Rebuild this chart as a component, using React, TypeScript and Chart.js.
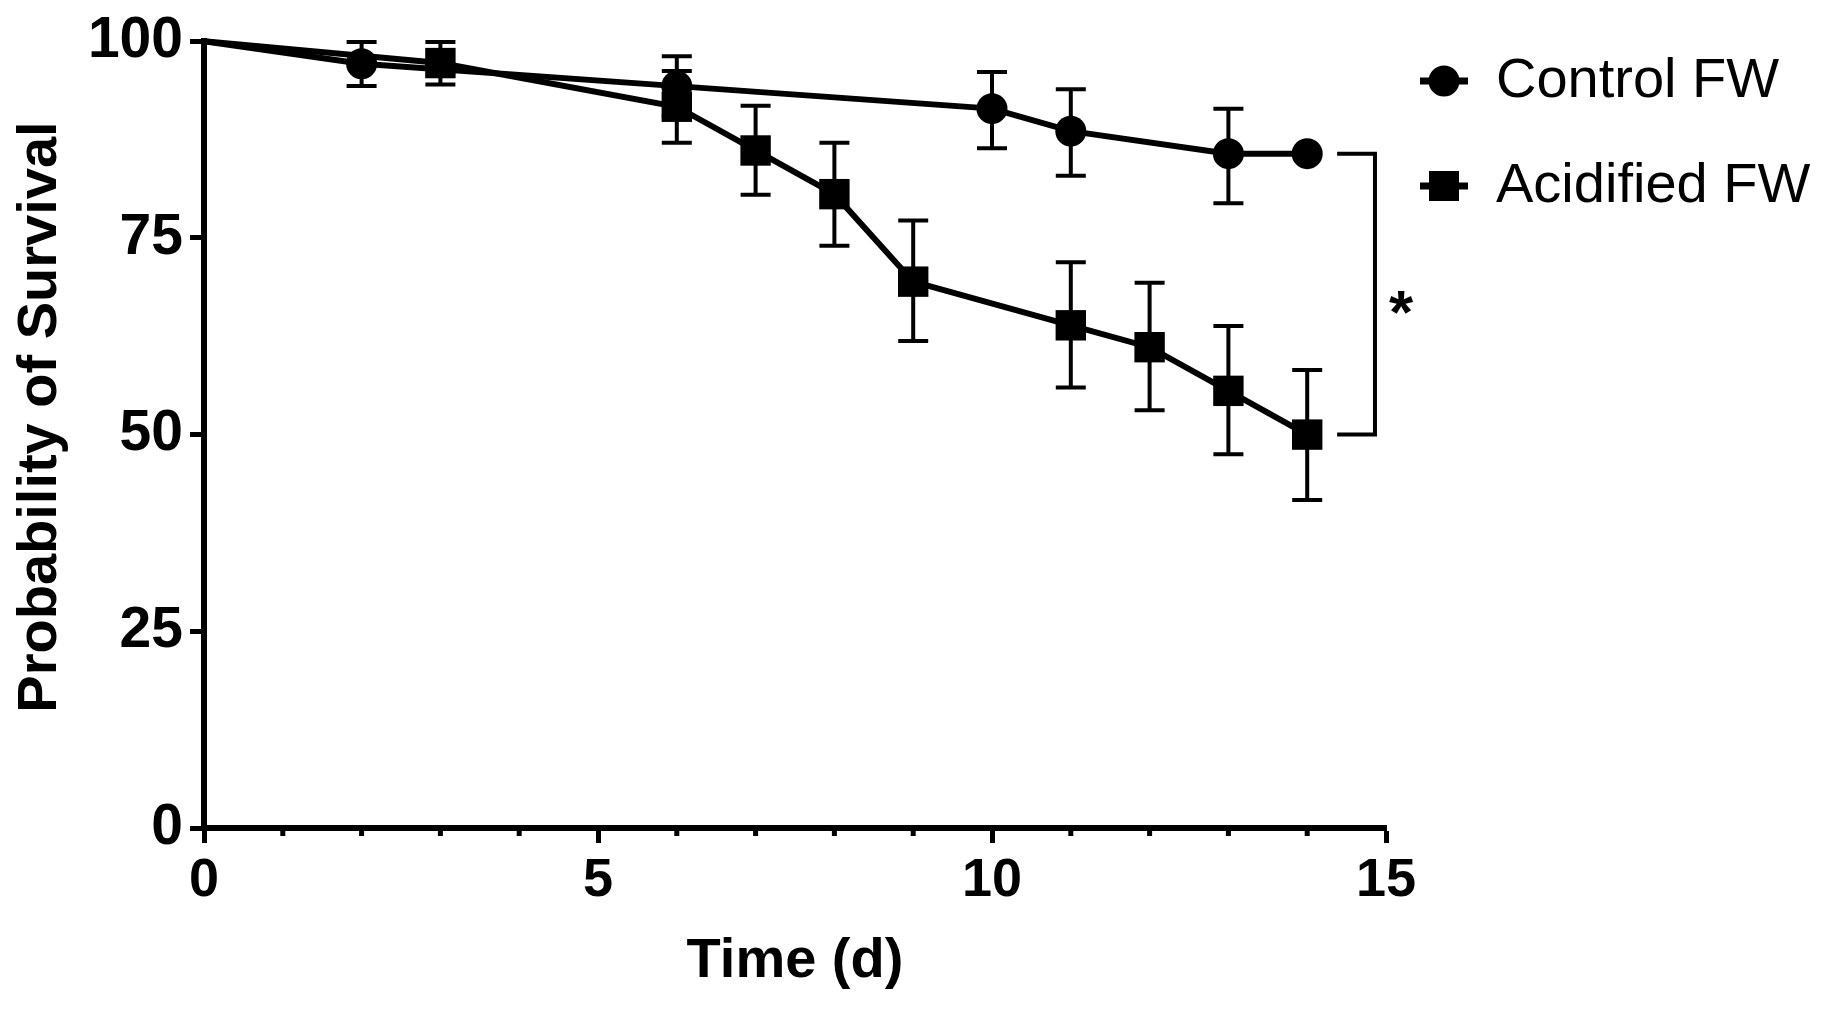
import { useEffect, useRef } from 'react';
import { Chart, registerables } from 'chart.js';

Chart.register(...registerables);

// Kaplan-Meier survival
const controlDays = [0, 2, 6, 10, 11, 13, 14];
const controlSurvival = [100, 97.14, 94.29, 91.43, 88.57, 85.71, 85.71];
const controlUpper = [null, 99.9, 98.1, 96.1, 93.9, 91.4, null];
const controlLower = [null, 94.3, 90.5, 86.4, 82.9, 79.4, null];

const acidDays = [0, 3, 6, 7, 8, 9, 11, 12, 13, 14];
const acidSurvival = [100, 97.22, 91.67, 86.11, 80.56, 69.44, 63.89, 61.11, 55.56, 50.0];
const acidUpper = [null, 99.9, 96.2, 91.8, 87.1, 77.2, 71.9, 69.3, 63.8, 58.2];
const acidLower = [null, 94.5, 87.1, 80.5, 74.0, 61.9, 56.0, 53.1, 47.5, 41.7];

const seriesLabels = ['Control FW', 'Acidified FW'];
const xTitle = 'Time (d)';
const yTitle = 'Probability of Survival';
const significance = '*';

const FONT = '"Liberation Sans", Arial, sans-serif';

const errorBars = {
  id: 'errorBars',
  afterDatasetsDraw(chart: any) {
    const { ctx, scales: { x, y } } = chart;
    ctx.save();
    ctx.strokeStyle = '#000';
    ctx.lineWidth = 4;
    chart.data.datasets.forEach((ds: any) => {
      ds.data.forEach((pt: any, i: number) => {
        const hi = ds.errUpper[i];
        const lo = ds.errLower[i];
        if (hi == null || lo == null) return;
        const px = x.getPixelForValue(pt.x);
        const top = y.getPixelForValue(hi);
        const bot = y.getPixelForValue(lo);
        ctx.beginPath();
        ctx.moveTo(px, top);
        ctx.lineTo(px, bot);
        ctx.moveTo(px - 15, top);
        ctx.lineTo(px + 15, top);
        ctx.moveTo(px - 15, bot);
        ctx.lineTo(px + 15, bot);
        ctx.stroke();
      });
    });
    ctx.restore();
  },
};

// small ticks at every day that has no label
const minorTicks = {
  id: 'minorTicks',
  afterDraw(chart: any) {
    const { ctx, scales: { x }, chartArea } = chart;
    ctx.save();
    ctx.strokeStyle = '#000';
    ctx.lineWidth = 5;
    for (let d = Math.ceil(x.min); d <= x.max; d++) {
      if (d % 5 === 0) continue;
      const px = x.getPixelForValue(d);
      ctx.beginPath();
      ctx.moveTo(px, chartArea.bottom);
      ctx.lineTo(px, chartArea.bottom + 8);
      ctx.stroke();
    }
    ctx.restore();
  },
};

// y title drawn by hand so it can sit a little above the axis centre
const yAxisTitle = {
  id: 'yAxisTitle',
  afterDraw(chart: any) {
    const { ctx } = chart;
    ctx.save();
    ctx.translate(41, 417);
    ctx.rotate(-Math.PI / 2);
    ctx.font = `bold 56px ${FONT}`;
    ctx.fillStyle = '#000';
    ctx.textAlign = 'center';
    ctx.textBaseline = 'middle';
    ctx.fillText(yTitle, 0, 0);
    ctx.restore();
  },
};

// bracket + asterisk between the last points of both curves
const bracket = {
  id: 'bracket',
  afterDraw(chart: any) {
    const { ctx, scales: { x, y } } = chart;
    const x0 = x.getPixelForValue(14.38);
    const x1 = x.getPixelForValue(14.86);
    const yTop = y.getPixelForValue(controlSurvival[controlSurvival.length - 1]);
    const yBot = y.getPixelForValue(acidSurvival[acidSurvival.length - 1]);
    ctx.save();
    ctx.strokeStyle = '#000';
    ctx.lineWidth = 4;
    ctx.beginPath();
    ctx.moveTo(x0, yTop);
    ctx.lineTo(x1, yTop);
    ctx.lineTo(x1, yBot);
    ctx.lineTo(x0, yBot);
    ctx.stroke();
    const size = 62;
    ctx.font = `bold ${size}px ${FONT}`;
    ctx.fillStyle = '#000';
    ctx.textAlign = 'center';
    ctx.textBaseline = 'alphabetic';
    const cx = x.getPixelForValue(15.19);
    const cy = y.getPixelForValue(67.4);
    ctx.fillText(significance, cx, cy + 0.57 * size);
    ctx.restore();
  },
};

const customLegend = {
  id: 'customLegend',
  afterDraw(chart: any) {
    const { ctx } = chart;
    const rows = [81, 186];
    ctx.save();
    chart.data.datasets.forEach((ds: any, i: number) => {
      const cy = rows[i];
      const cx = 1444;
      ctx.strokeStyle = '#000';
      ctx.fillStyle = '#000';
      ctx.lineWidth = 7;
      ctx.beginPath();
      ctx.moveTo(cx - 24, cy);
      ctx.lineTo(cx + 24, cy);
      ctx.stroke();
      if (ds.pointStyle === 'rect') {
        ctx.fillRect(cx - 15, cy - 15, 30, 30);
      } else {
        ctx.beginPath();
        ctx.arc(cx, cy, 15.5, 0, Math.PI * 2);
        ctx.fill();
      }
      ctx.font = `56px ${FONT}`;
      ctx.textAlign = 'left';
      ctx.textBaseline = 'middle';
      ctx.fillText(ds.label, 1496, cy + 1);
    });
    ctx.restore();
  },
};

const SurvivalChart = () => {
  const canvasRef = useRef<HTMLCanvasElement | null>(null);
  const chartRef = useRef<Chart | null>(null);

  useEffect(() => {
    document.body.style.margin = '0';
    document.body.style.overflow = 'hidden';
    if (!canvasRef.current) return;
    if (chartRef.current) chartRef.current.destroy();

    chartRef.current = new Chart(canvasRef.current, {
      type: 'line',
      data: {
        datasets: [
          {
            label: seriesLabels[0],
            data: controlDays.map((d, i) => ({ x: d, y: controlSurvival[i] })),
            errUpper: controlUpper,
            errLower: controlLower,
            borderColor: '#000',
            backgroundColor: '#000',
            borderWidth: 6,
            pointStyle: 'circle',
            pointRadius: controlDays.map((_, i) => (i === 0 ? 0 : 15.5)),
            pointBorderWidth: 0,
            pointBackgroundColor: '#000',
            tension: 0,
            clip: false,
          } as any,
          {
            label: seriesLabels[1],
            data: acidDays.map((d, i) => ({ x: d, y: acidSurvival[i] })),
            errUpper: acidUpper,
            errLower: acidLower,
            borderColor: '#000',
            backgroundColor: '#000',
            borderWidth: 6,
            pointStyle: 'rect',
            pointRadius: acidDays.map((_, i) => (i === 0 ? 0 : 21.5)),
            pointBorderWidth: 0,
            pointBackgroundColor: '#000',
            tension: 0,
            clip: false,
          } as any,
        ],
      },
      options: {
        responsive: false,
        animation: false,
        devicePixelRatio: 1,
        layout: { padding: { top: 40, right: 451, left: 0, bottom: 0 } },
        plugins: {
          legend: { display: false },
          tooltip: { enabled: false },
        },
        scales: {
          x: {
            type: 'linear',
            min: 0,
            max: 15,
            afterFit: (scale: any) => { scale.height = 182; },
            grid: {
              drawOnChartArea: false,
              tickLength: 15,
              tickWidth: 5,
              tickColor: (c: any) => (c.tick && c.tick.value % 5 === 0 ? '#000' : 'rgba(0,0,0,0)'),
            },
            border: { display: true, color: '#000', width: 6 },
            ticks: {
              stepSize: 1,
              autoSkip: false,
              maxRotation: 0,
              padding: 6,
              color: '#000',
              font: { family: FONT, size: 54, weight: 'bold' },
              callback: (v: any) => (Number(v) % 5 === 0 ? String(v) : ''),
            },
            title: {
              display: true,
              text: xTitle,
              color: '#000',
              font: { family: FONT, size: 56, weight: 'bold' },
              padding: { top: 0, bottom: 15 },
            },
          },
          y: {
            min: 0,
            max: 100,
            afterFit: (scale: any) => { scale.width = 204; },
            grid: {
              drawOnChartArea: false,
              tickLength: 14,
              tickWidth: 5,
              tickColor: '#000',
            },
            border: { display: true, color: '#000', width: 6 },
            ticks: {
              stepSize: 25,
              padding: 7,
              color: '#000',
              font: { family: FONT, size: 57, weight: 'bold' },
            },
            title: { display: false },
          },
        },
      } as any,
      plugins: [errorBars, minorTicks, yAxisTitle, bracket, customLegend],
    });

    return () => {
      if (chartRef.current) {
        chartRef.current.destroy();
        chartRef.current = null;
      }
    };
  }, []);

  return (
    <div style={{ width: 1837, height: 1010, background: '#fff' }}>
      <canvas ref={canvasRef} width={1837} height={1010} style={{ width: 1837, height: 1010, display: 'block' }} />
    </div>
  );
};

export default function App() {
  return <SurvivalChart />;
}
